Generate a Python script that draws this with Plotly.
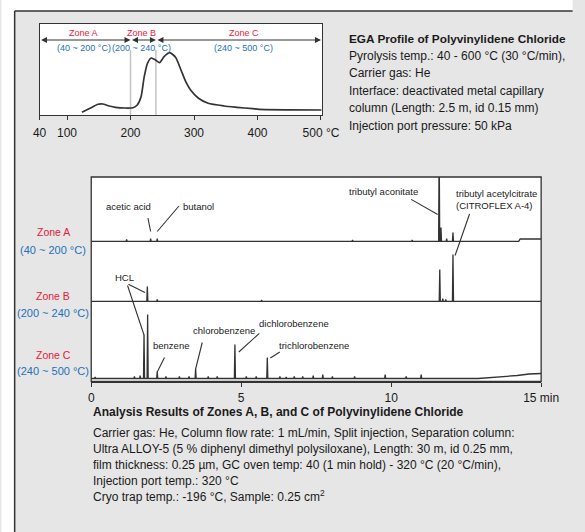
import numpy as np
import plotly.graph_objects as go

W, H = 585, 532
FONT = "Liberation Sans, Arial, sans-serif"
INK = "#1a1a1a"
LINE = "#333333"
RED = "#e8203a"
BLUE = "#2470b8"
BG = "#e6e6e6"

# ---------------- EGA profile (temperature in degC, signal in arbitrary units) -------------
ega_temp = [123.5, 136.2, 148.7, 156.3, 166.4, 176.3, 191.4, 204.0, 210.6, 216.6, 221.6,
            226.7, 232.7, 239.2, 245.8, 252.8, 261.8, 270.9, 279.5, 287.0, 294.6, 307.1,
            322.2, 347.4, 367.4, 392.6, 402.6, 500.6]
ega_signal = [2.7, 6.7, 10.7, 11.0, 9.0, 7.7, 7.0, 7.3, 10.0, 18.3, 38.3,
              51.7, 57.0, 55.0, 52.3, 58.3, 62.3, 57.7, 45.0, 33.3, 25.0, 16.7,
              11.7, 9.0, 7.7, 6.3, 5.7, 5.0]
ega_axis_start = 56.7          # left edge of the (compressed) temperature axis, labelled "40"
ega_tick_vals = [ega_axis_start, 100, 200, 300, 400, 500]
ega_tick_text = ["40", "100", "200", "300", "400", "500 °C"]

zone_names = ["Zone A", "Zone B", "Zone C"]
zone_ranges = ["(40 ~ 200 °C)", "(200 ~ 240 °C)", "(240 ~ 500 °C)"]
zone_bounds = [40, 200, 240, 500]
ega_zone_label_x = [126, 218, 378]

ega_title = "EGA Profile of Polyvinylidene Chloride"
ega_lines = ["Pyrolysis temp.: 40 - 600 °C (30 °C/min),",
             "Carrier gas: He",
             "Interface: deactivated metal capillary",
             "column (Length: 2.5 m, id 0.15 mm)",
             "Injection port pressure: 50 kPa"]

# ---------------- GC chromatograms (retention time in min, intensity in arbitrary units) ---
gc_a_rt = [1.18, 1.98, 2.20, 8.71, 10.70, 11.60, 11.66, 11.85, 12.06]
gc_a_h = [2, 3, 3, 1.5, 1.5, 100, 14, 3, 9]
gc_a_base_t = [0, 14.25, 14.30, 15]
gc_a_base_v = [0, 0, 2.5, 2.5]

gc_b_rt = [1.87, 2.20, 5.68, 11.62, 11.72, 11.82, 12.06]
gc_b_h = [15, 2, 1.5, 32, 3, 2, 47]
gc_b_base_t = [0, 15]
gc_b_base_v = [0, 0]

gc_c_rt = [0.13, 1.44, 1.63, 1.76, 1.88, 2.20, 2.49, 2.94, 3.26, 3.48, 3.90, 4.20, 4.79,
           5.17, 5.50, 5.87, 6.29, 6.50, 6.77, 7.05, 7.40, 7.72, 8.04, 8.78, 9.80, 10.50, 11.00]
gc_c_h = [1.5, 2, 3, 44, 64, 7, 2, 2, 2, 10, 2, 2, 34,
          2, 2, 21, 2, 1.5, 2, 2, 3, 4, 2, 2, 4, 2, 4]
gc_c_base_t = [0, 12.9, 13.4, 13.8, 14.2, 14.6, 15]
gc_c_base_v = [0, 0, 1, 2, 3, 4.5, 5]

gc_tick_vals = [0, 5, 10, 15]
gc_tick_text = ["0", "5", "10", "15 min"]

# peak labels: text, zone, x (min), y (zone units), xanchor
peak_labels = [
    ("acetic acid", "A", 1.24, 35, "center"),
    ("butanol", "A", 3.57, 35, "center"),
    ("tributyl aconitate", "A", 9.74, 50, "center"),
    ("tributyl acetylcitrate<br>(CITROFLEX A-4)", "A", 12.10, 41.5, "left"),
    ("HCL", "B", 1.12, 24, "center"),
    ("benzene", "C", 2.65, 33.5, "center"),
    ("chlorobenzene", "C", 4.44, 48.5, "center"),
    ("dichlorobenzene", "C", 6.77, 55.5, "center"),
    ("trichlorobenzene", "C", 7.44, 33.5, "center"),
]
# leader lines: zone, tip x (min), tip y (zone units), tail offset dx, dy (px)
leaders = [
    ("A", 1.98, 10, -3, -15),
    ("A", 2.20, 10, 23, -27),
    ("A", 11.55, 27, -28, -16),
    ("B", 12.13, 46, 15, -43),
    ("B", 1.79, 9, -18, -9),
    ("C", 1.76, 43.5, -17, -51),
    ("C", 2.20, 6.5, 8, -16),
    ("C", 3.48, 9.5, 7, -28),
    ("C", 4.92, 26.5, 22, -20),
    ("C", 5.97, 20.5, 11, -7),
]

gc_title = "Analysis Results of Zones A, B, and C of Polyvinylidene Chloride"
gc_lines = ["Carrier gas: He, Column flow rate: 1 mL/min, Split injection, Separation column:",
            "Ultra ALLOY-5 (5 % diphenyl dimethyl polysiloxane), Length: 30 m, id 0.25 mm,",
            "film thickness: 0.25 µm, GC oven temp: 40 (1 min hold) - 320 °C (20 °C/min),",
            "Injection port temp.: 320 °C",
            "Cryo trap temp.: -196 °C, Sample: 0.25 cm<sup>2</sup>"]


# ---------------- helpers -----------------
def fx(p):
    return p / W


def fy(p):
    return 1 - p / H


def chromatogram(rt, h, bt, bv, w=0.018):
    xs = list(bt)
    ys = list(bv)
    for t, hh in zip(rt, h):
        b = float(np.interp(t, bt, bv))
        xs += [t - w, t, t + w]
        ys += [float(np.interp(t - w, bt, bv)), b + hh, float(np.interp(t + w, bt, bv))]
    order = np.argsort(xs, kind="stable")
    return [xs[i] for i in order], [ys[i] for i in order]


fig = go.Figure()

# EGA trace
fig.add_trace(go.Scatter(x=ega_temp, y=ega_signal, mode="lines", xaxis="x", yaxis="y",
                         line=dict(color=LINE, width=1.7, shape="spline", smoothing=0.6),
                         hoverinfo="skip", showlegend=False))

zone_axis = {"A": "y4", "B": "y3", "C": "y2"}
for z, rt, h, bt, bv in [("A", gc_a_rt, gc_a_h, gc_a_base_t, gc_a_base_v),
                         ("B", gc_b_rt, gc_b_h, gc_b_base_t, gc_b_base_v),
                         ("C", gc_c_rt, gc_c_h, gc_c_base_t, gc_c_base_v)]:
    xs, ys = chromatogram(rt, h, bt, bv)
    fig.add_trace(go.Scatter(x=xs, y=ys, mode="lines", xaxis="x2", yaxis=zone_axis[z],
                             line=dict(color=LINE, width=1.3),
                             hoverinfo="skip", showlegend=False))

# geometry (px)
ega_l, ega_r, ega_t, ega_b = 34, 329, 24, 115
gc_l, gc_r, gc_t, gc_b = 88, 558, 177, 381.5
gc_ab, gc_bc = 242, 302

ax_common = dict(showgrid=False, zeroline=False, linecolor=LINE, linewidth=1.3,
                 tickcolor=LINE, tickfont=dict(family=FONT, size=12, color=INK))

fig.update_layout(
    width=W, height=H, margin=dict(l=0, r=0, t=0, b=0),
    paper_bgcolor=BG, plot_bgcolor="white",
    font=dict(family=FONT, color=INK),
    xaxis=dict(domain=[fx(ega_l), fx(ega_r)], anchor="y", range=[ega_axis_start, 501.5],
               showline=True, mirror=True, ticks="outside", ticklen=4,
               tickvals=ega_tick_vals, ticktext=ega_tick_text, ticklabelstandoff=2, **ax_common),
    yaxis=dict(domain=[fy(ega_b), fy(ega_t)], anchor="x", range=[0, 91],
               showline=True, mirror=True, showticklabels=False, ticks="",
               showgrid=False, zeroline=False, linecolor=LINE, linewidth=1.3),
    xaxis2=dict(domain=[fx(gc_l), fx(gc_r)], anchor="y2", range=[0, 15],
                showline=True, ticks="outside", ticklen=4, tickvals=gc_tick_vals,
                ticktext=gc_tick_text, ticklabelstandoff=1, **ax_common),
    yaxis2=dict(domain=[fy(gc_b), fy(gc_bc)], anchor="x2", range=[-3, gc_b - gc_bc - 3],
                visible=False),
    yaxis3=dict(domain=[fy(gc_bc), fy(gc_ab)], anchor="x2", range=[-0.5, gc_bc - gc_ab - 0.5],
                visible=False),
    yaxis4=dict(domain=[fy(gc_ab), fy(gc_t)], anchor="x2", range=[-0.5, gc_ab - gc_t - 0.5],
                visible=False),
)

shapes = [
    # white margin strips and frame lines
    dict(type="rect", xref="paper", yref="paper", x0=0, x1=1.01, y0=fy(11), y1=1.01,
         fillcolor="white", line=dict(width=0), layer="below"),
    dict(type="rect", xref="paper", yref="paper", x0=-0.01, x1=fx(8), y0=-0.01, y1=1.01,
         fillcolor="white", line=dict(width=0), layer="below"),
    dict(type="line", xref="paper", yref="paper", x0=fx(8), x1=1.01, y0=fy(11), y1=fy(11),
         line=dict(color=LINE, width=1.5)),
    dict(type="line", xref="paper", yref="paper", x0=fx(8), x1=fx(8), y0=fy(11), y1=-0.01,
         line=dict(color=LINE, width=1.5)),
    # GC frame
    dict(type="rect", xref="paper", yref="paper", x0=fx(gc_l), x1=fx(gc_r), y0=fy(gc_b),
         y1=fy(gc_t), line=dict(color=LINE, width=1.3)),
]
# zone boundary guides in EGA
for b in zone_bounds[1:3]:
    shapes.append(dict(type="line", xref="x", yref="y", x0=b, x1=b, y0=0, y1=65,
                       line=dict(color="#c4c4c4", width=1.5), layer="below"))
fig.update_layout(shapes=shapes)

ann = []
# EGA zone arrows + labels
for i in range(3):
    a0 = max(zone_bounds[i], ega_axis_start)
    a1 = zone_bounds[i + 1]
    ann.append(dict(x=a1, y=75, ax=a0, ay=75, xref="x", yref="y", axref="x", ayref="y",
                    text="", showarrow=True, arrowside="end+start", arrowhead=2,
                    arrowsize=1, arrowwidth=1.2, arrowcolor=LINE, standoff=0, startstandoff=0))
    ann.append(dict(x=ega_zone_label_x[i], y=82, xref="x", yref="y", text=zone_names[i],
                    xanchor="center", showarrow=False, font=dict(size=9, color=RED)))
    ann.append(dict(x=ega_zone_label_x[i], y=67, xref="x", yref="y", text=zone_ranges[i],
                    xanchor="center", showarrow=False, font=dict(size=9, color=BLUE)))

# EGA info text
ann.append(dict(x=fx(355), y=fy(30), xref="paper", yref="paper", xanchor="left",
                text="<b>" + ega_title + "</b>", showarrow=False, font=dict(size=11.8)))
for k, t in enumerate(ega_lines):
    ann.append(dict(x=fx(355), y=fy(47 + 17.4 * k), xref="paper", yref="paper", xanchor="left",
                    text=t, showarrow=False, font=dict(size=12)))

# GC zone labels at left
gc_zone_y = {"A": (231.7, 250), "B": (296, 312.7), "C": (363.3, 379.3)}
for i, z in enumerate(["A", "B", "C"]):
    ya, yb = gc_zone_y[z]
    ann.append(dict(x=fx(48.5), y=fy(ya), xref="paper", yref="paper", text=zone_names[i],
                    xanchor="center", showarrow=False, font=dict(size=10.5, color=RED)))
    ann.append(dict(x=fx(48.5), y=fy(yb), xref="paper", yref="paper", text=zone_ranges[i],
                    xanchor="center", showarrow=False, font=dict(size=11, color=BLUE)))

# peak labels and leaders
for text, z, x, y, xa in peak_labels:
    ann.append(dict(x=x, y=y, xref="x2", yref=zone_axis[z], text=text, showarrow=False,
                    xanchor=xa, align="left", font=dict(size=9.5, color=INK)))
for z, x, y, dx, dy in leaders:
    ann.append(dict(x=x, y=y, xref="x2", yref=zone_axis[z], ax=dx, ay=dy, text="",
                    showarrow=True, arrowhead=0, arrowwidth=1.1, arrowcolor=LINE,
                    standoff=0, startstandoff=0))

# GC description
ann.append(dict(x=fx(88), y=fy(420.5), xref="paper", yref="paper", xanchor="left",
                text="<b>" + gc_title + "</b>", showarrow=False, font=dict(size=12)))
for k, t in enumerate(gc_lines):
    ann.append(dict(x=fx(88), y=fy(441.5 + 16.1 * k), xref="paper", yref="paper",
                    xanchor="left", text=t, showarrow=False, font=dict(size=12)))

fig.update_layout(annotations=ann)
fig.write_html("out.html",
               config={"displayModeBar": False},
               post_script="document.body.style.margin='0px';"
                           "document.body.style.overflow='hidden';")
